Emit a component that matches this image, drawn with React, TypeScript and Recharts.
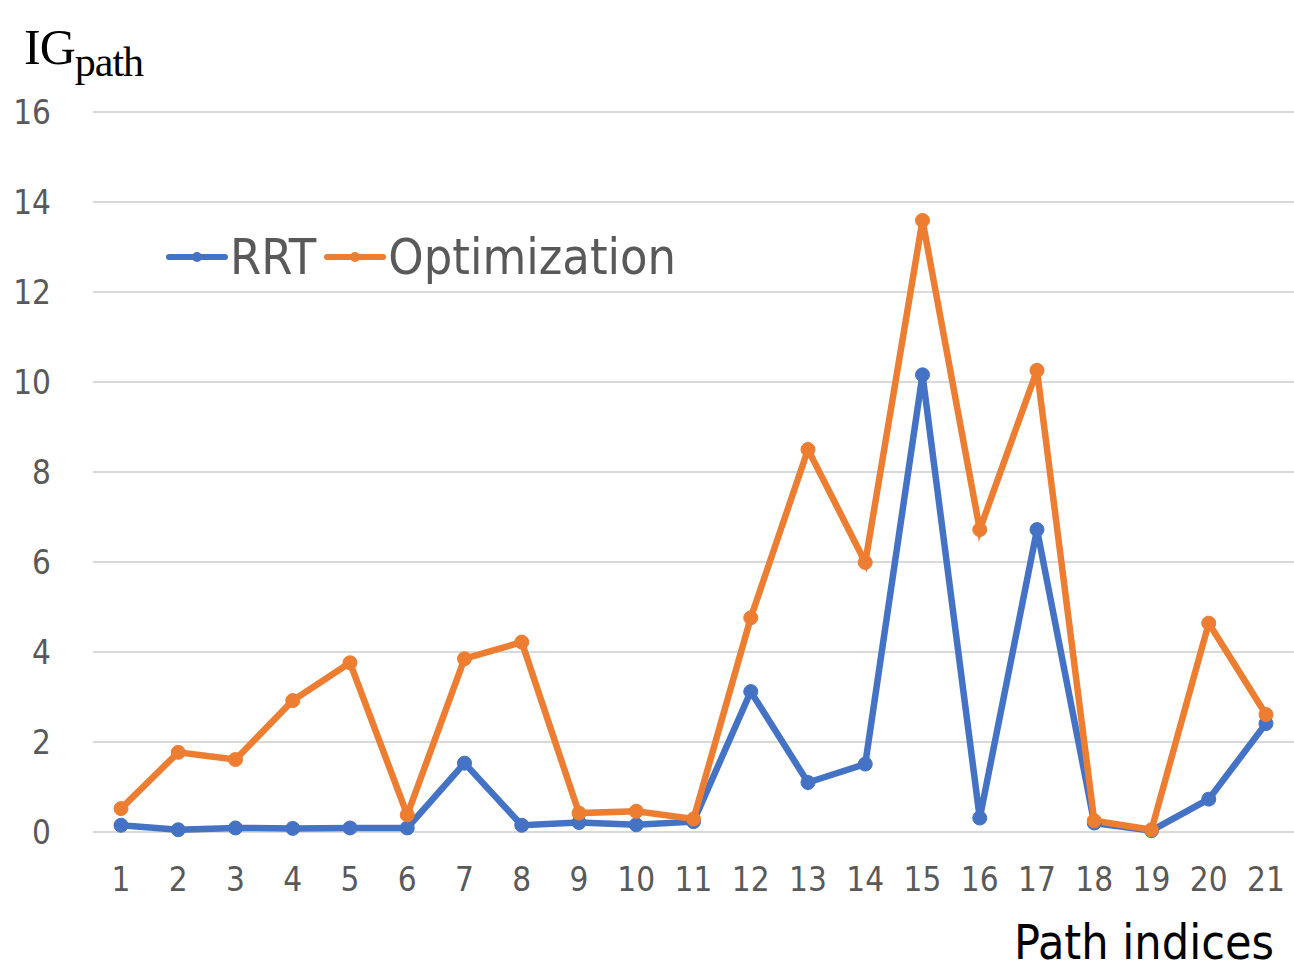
import React from "react";
import { LineChart, Line, XAxis, YAxis, CartesianGrid, Legend } from "recharts";

// ── Data ─────────────────────────────────────────────────────────────────────

const pathIndices = [
  "1", "2", "3", "4", "5", "6", "7", "8", "9", "10", "11",
  "12", "13", "14", "15", "16", "17", "18", "19", "20", "21",
];

const rrtValues = [
  0.15, 0.05, 0.09, 0.08, 0.09, 0.09, 1.53, 0.15, 0.21, 0.16, 0.23,
  3.12, 1.1, 1.51, 10.16, 0.31, 6.72, 0.2, 0.03, 0.73, 2.41,
];

const optValues = [
  0.52, 1.77, 1.61, 2.92, 3.76, 0.38, 3.85, 4.22, 0.42, 0.46, 0.29,
  4.76, 8.5, 5.99, 13.59, 6.72, 10.26, 0.25, 0.05, 4.64, 2.61,
];

const yTicks = [0, 2, 4, 6, 8, 10, 12, 14, 16];

const data = pathIndices.map((p, i) => ({
  idx: p,
  rrt: rrtValues[i],
  opt: optValues[i],
}));

const BLUE = "#4472c4";
const ORANGE = "#ed7d31";
const TEXT = "#595959";
const FONT = "'Liberation Sans Narrow', 'DejaVu Sans Condensed', 'Open Sans', sans-serif";

const tickStyle = { fill: TEXT, fontSize: 33, fontFamily: FONT };

function LegendContent() {
  const item = (color: string, label: string) => (
    <div style={{ display: "flex", alignItems: "center" }}>
      <svg width={62} height={20}>
        <line x1={3} y1={10} x2={59} y2={10} stroke={color} strokeWidth={6} strokeLinecap="round" />
        <circle cx={31} cy={10} r={5} fill={color} />
      </svg>
      <span style={{ color: TEXT, fontSize: 50, fontFamily: FONT, marginLeft: 2, marginRight: 8 }}>{label}</span>
    </div>
  );
  return (
    <div style={{ display: "flex", alignItems: "center" }}>
      {item(BLUE, "RRT")}
      {item(ORANGE, "Optimization")}
    </div>
  );
}

export default function App() {
  return (
    <div style={{ position: "absolute", left: 0, top: 0, width: 1294, height: 976, background: "#fff" }}>
      <LineChart
        width={1294}
        height={976}
        data={data}
        margin={{ top: 112, right: 0, left: 0, bottom: 114 }}
      >
        <CartesianGrid vertical={false} stroke="#d9d9d9" strokeWidth={2} />
        <XAxis
          dataKey="idx"
          height={30}
          axisLine={false}
          tickLine={false}
          tick={tickStyle}
          tickMargin={30}
          interval={0}
          padding={{ left: 28, right: 28 }}
        />
        <YAxis
          domain={[0, 16]}
          ticks={yTicks}
          axisLine={false}
          tickLine={false}
          tick={tickStyle}
          width={93}
          tickMargin={36}
        />
        <Legend
          layout="vertical"
          align="center"
          verticalAlign="middle"
          content={<LegendContent />}
          wrapperStyle={{ position: "absolute", left: 166, top: 228, width: "auto" }}
        />
        <Line
          dataKey="rrt"
          name="RRT"
          stroke={BLUE}
          strokeWidth={6.5}
          dot={{ r: 7, fill: BLUE, stroke: BLUE, strokeWidth: 1 }}
          isAnimationActive={false}
        />
        <Line
          dataKey="opt"
          name="Optimization"
          stroke={ORANGE}
          strokeWidth={6.5}
          dot={{ r: 7, fill: ORANGE, stroke: ORANGE, strokeWidth: 1 }}
          isAnimationActive={false}
        />
      </LineChart>
      <div
        style={{
          position: "absolute",
          left: 24,
          top: 22,
          fontFamily: "'Liberation Serif', 'DejaVu Serif', serif",
          fontSize: 50,
          color: "#000",
          lineHeight: 1,
          letterSpacing: -1,
        }}
      >
        IG<sub style={{ fontSize: 42, verticalAlign: "-12px" }}>path</sub>
      </div>
      <div
        style={{
          position: "absolute",
          left: 1014,
          top: 918,
          fontFamily: FONT,
          fontSize: 48,
          color: "#000",
          lineHeight: 1,
        }}
      >
        Path indices
      </div>
    </div>
  );
}
